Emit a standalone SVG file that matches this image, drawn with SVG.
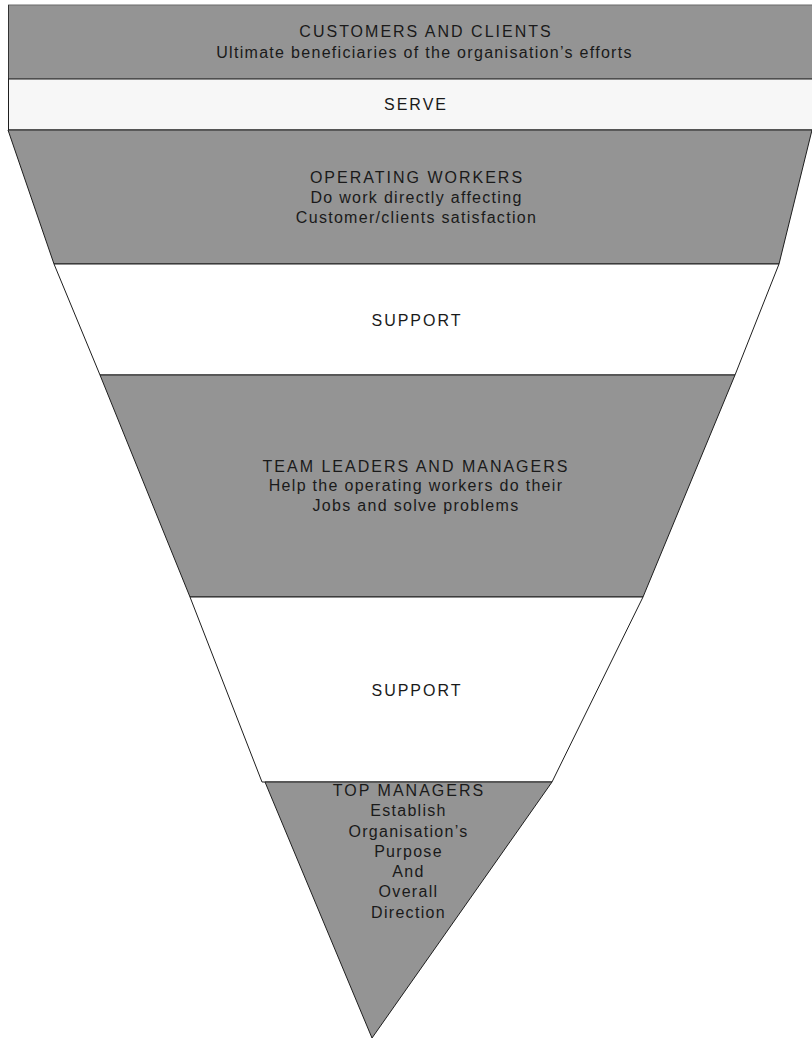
<svg xmlns="http://www.w3.org/2000/svg" width="812" height="1039" viewBox="0 0 812 1039">
<style>
.band{stroke:#1e1e1e;stroke-width:1}
.gray{fill:#949494}
.light{fill:#f7f7f7}
.white{fill:#ffffff}
text{font-family:"Liberation Sans",Arial,sans-serif;font-size:16px;letter-spacing:2px;fill:#1a1a1a;text-anchor:middle}
text.lc{letter-spacing:1.3px}
</style>
<rect width="812" height="1039" fill="#ffffff"/>
<g id="customers">
<rect x="8.5" y="5" width="804" height="74" fill="#949494" stroke="#6a6a6a" stroke-width="1"/>
<line x1="8.5" y1="5" x2="8.5" y2="79" stroke="#333" stroke-width="1"/>
<text x="426" y="37">CUSTOMERS AND CLIENTS</text>
<text class="lc" x="424.5" y="58">Ultimate beneficiaries of the organisation’s efforts</text>
</g>
<g id="serve">
<rect class="band light" x="8.5" y="79" width="804" height="51"/>
<text x="416" y="110">SERVE</text>
</g>
<g id="operating-workers">
<polygon class="band gray" points="8,130 812,130 779,264 54,264"/>
<text x="417" y="183">OPERATING WORKERS</text>
<text class="lc" x="416.5" y="203">Do work directly affecting</text>
<text class="lc" x="416.5" y="223">Customer/clients satisfaction</text>
</g>
<g id="support-1">
<polygon class="band white" points="54,264 779,264 735,375 100,375"/>
<text x="417" y="326">SUPPORT</text>
</g>
<g id="team-leaders">
<polygon class="band gray" points="100,375 735,375 643,597 190,597"/>
<text x="416" y="472">TEAM LEADERS AND MANAGERS</text>
<text class="lc" x="416" y="491">Help the operating workers do their</text>
<text class="lc" x="416" y="511">Jobs and solve problems</text>
</g>
<g id="support-2">
<polygon class="band white" points="190,597 643,597 552,782 262,782"/>
<text x="417" y="696">SUPPORT</text>
</g>
<g id="top-managers">
<polygon class="band gray" points="265,782 552,782 372,1038"/>
<text x="409" y="796">TOP MANAGERS</text>
<text class="lc" x="408.5" y="816">Establish</text>
<text class="lc" x="408.5" y="837">Organisation’s</text>
<text class="lc" x="408.5" y="857">Purpose</text>
<text class="lc" x="408.5" y="877">And</text>
<text class="lc" x="408.5" y="897">Overall</text>
<text class="lc" x="408.5" y="918">Direction</text>
</g>
<g id="connectors"></g>
</svg>
